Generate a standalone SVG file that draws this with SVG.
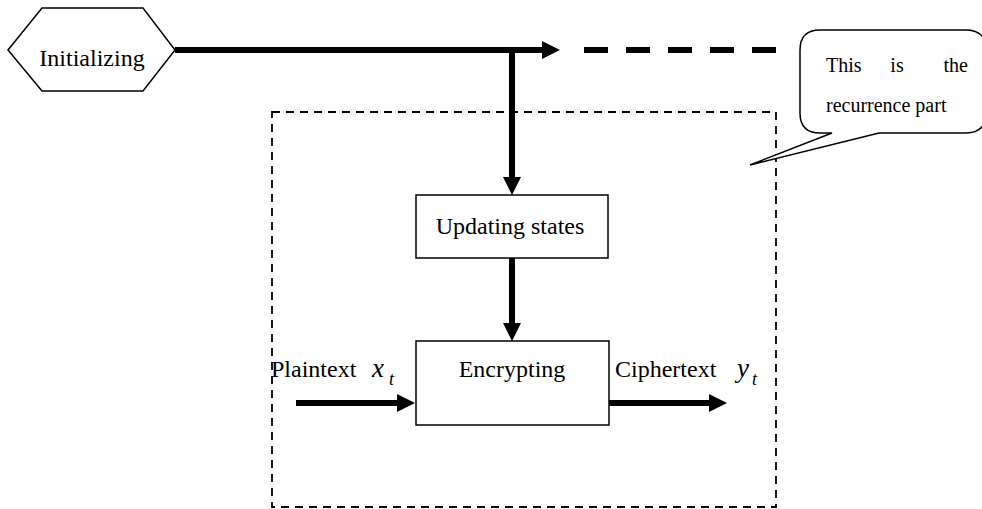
<svg xmlns="http://www.w3.org/2000/svg" width="982" height="509" viewBox="0 0 982 509">
<style>
.t{font-family:"Liberation Serif","Times New Roman",serif;font-size:24px;fill:#000}
.s{font-family:"Liberation Serif","Times New Roman",serif;font-size:20px;fill:#000}
.m{font-family:"Liberation Serif","Times New Roman",serif;font-style:italic;fill:#000}
.box{fill:#fff;stroke:#000;stroke-width:1.5}
.thick{stroke:#000;stroke-width:6;fill:none}
</style>
<defs>
<marker id="ah" markerUnits="userSpaceOnUse" markerWidth="18" markerHeight="18" refX="0" refY="9" orient="auto" overflow="visible">
<path d="M0,0 L18,9 L0,18 z" fill="#000"/>
</marker>
</defs>
<g id="recurrence-frame">
<rect x="272" y="112" width="504" height="395" fill="none" stroke="#000" stroke-width="1.8" stroke-dasharray="8 6"/>
</g>
<g id="connectors">
<line class="thick" x1="175" y1="50" x2="542" y2="50" marker-end="url(#ah)"/>
<line class="thick" x1="584" y1="50" x2="777" y2="50" stroke-dasharray="24 18"/>
<line class="thick" x1="512" y1="50" x2="512" y2="177" marker-end="url(#ah)"/>
<line class="thick" x1="512" y1="258" x2="512" y2="323" marker-end="url(#ah)"/>
<line class="thick" x1="296" y1="403" x2="397" y2="403" marker-end="url(#ah)"/>
<line class="thick" x1="609" y1="403" x2="709" y2="403" marker-end="url(#ah)"/>
</g>
<g id="initializing">
<polygon class="box" points="8,50 42,8 143,8 175,50 143,91 42,91"/>
<text class="t" x="92" y="66" text-anchor="middle">Initializing</text>
</g>
<g id="updating">
<rect class="box" x="416" y="195" width="192" height="63"/>
<text class="t" x="510" y="234" text-anchor="middle">Updating states</text>
</g>
<g id="encrypting">
<rect class="box" x="416" y="341" width="193" height="84"/>
<text class="t" x="512" y="377" text-anchor="middle">Encrypting</text>
</g>
<g id="plaintext">
<text class="t" x="271" y="377">Plaintext</text>
<text class="m" x="372" y="377" font-size="27">x</text>
<text class="m" x="389" y="385" font-size="18">t</text>
</g>
<g id="ciphertext">
<text class="t" x="615" y="377">Ciphertext</text>
<text class="m" x="737" y="377" font-size="27">y</text>
<text class="m" x="752" y="385" font-size="18">t</text>
</g>
<g id="callout">
<path d="M820,30 L966,30 Q986,30 986,50 L986,113 Q986,133 966,133 L879,133 L750,165 L832,133 L820,133 Q800,133 800,113 L800,50 Q800,30 820,30 Z" fill="#fff" stroke="#000" stroke-width="1.5"/>
<text class="s" x="826" y="72">This</text>
<text class="s" x="897" y="72" text-anchor="middle">is</text>
<text class="s" x="968" y="72" text-anchor="end">the</text>
<text class="s" x="826" y="112">recurrence part</text>
</g>
</svg>
